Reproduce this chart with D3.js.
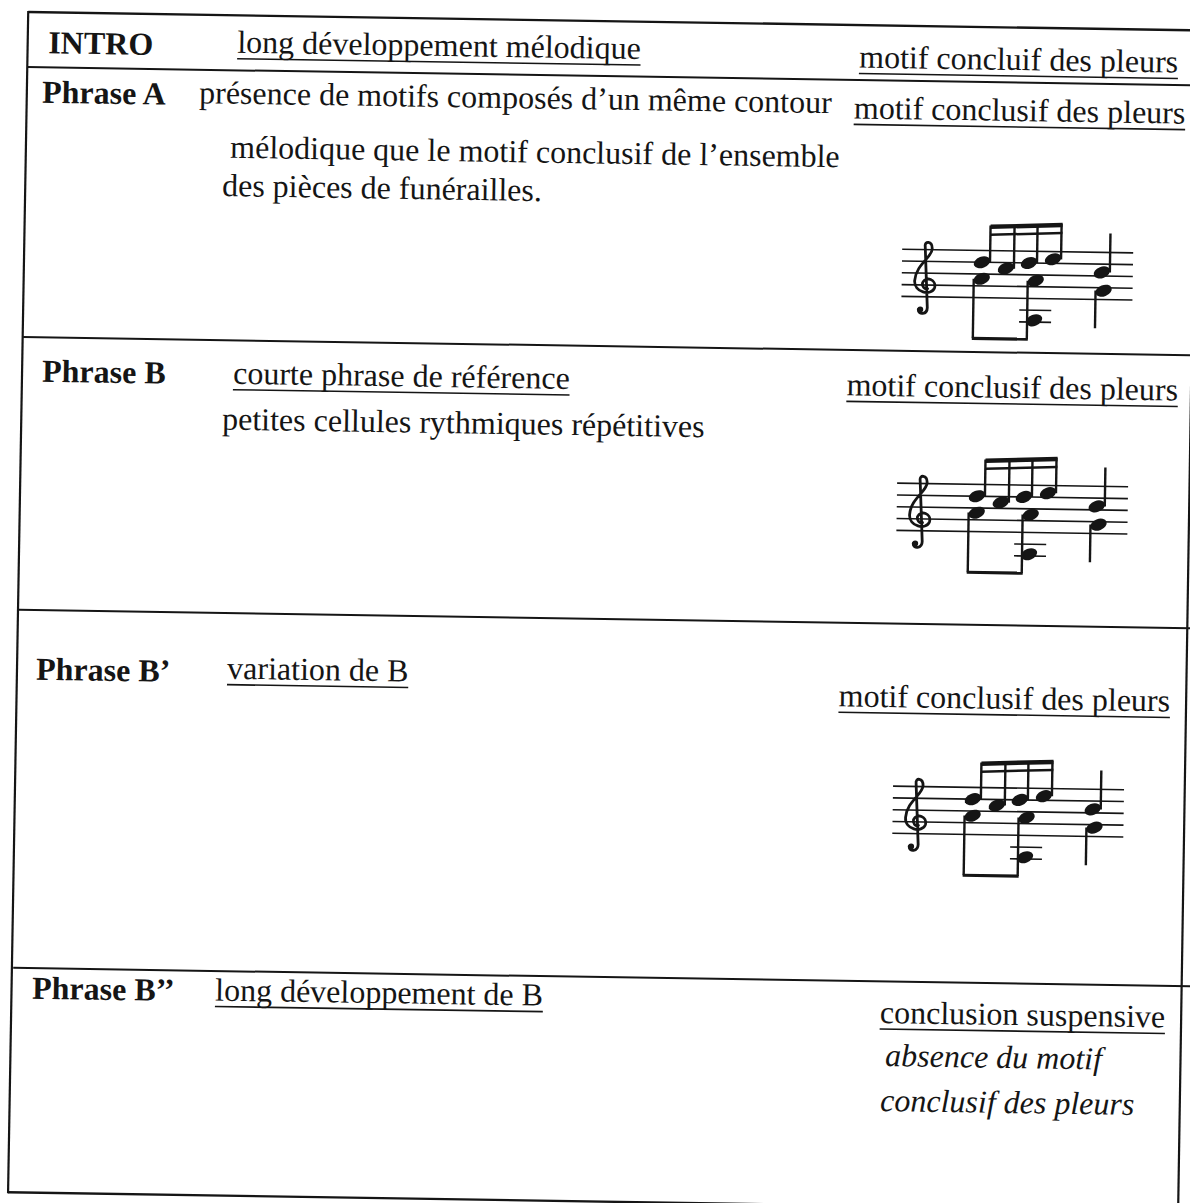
<!DOCTYPE html>
<html><head><meta charset="utf-8">
<script src="https://cdn.jsdelivr.net/npm/d3@7"></script>
<style>html,body{margin:0;padding:0;background:#fff}svg{display:block}</style>
</head><body>
<svg id="c" width="1190" height="1203"></svg>
<script>
// ---------- DATA ----------
const rowLabels = ["INTRO", "Phrase A", "Phrase B", "Phrase B’", "Phrase B’’"];
const mainHeads = ["long développement mélodique",
  "présence de motifs composés d’un même contour",
  "courte phrase de référence",
  "variation de B",
  "long développement de B"];
const mainHeadUnderlined = [true, false, true, true, true];
const mainExtra = [[], ["mélodique que le motif conclusif de l’ensemble", "des pièces de funérailles."],
  ["petites cellules rythmiques répétitives"], [], []];
const rightHeads = ["motif concluif des pleurs", "motif conclusif des pleurs", "motif conclusif des pleurs",
  "motif conclusif des pleurs", "conclusion suspensive"];
const rightExtra = [[], [], [], [], ["absence du motif", "conclusif des pleurs"]];
const hasMotif = [false, true, true, true, false];

// musical motif (staff steps: 0 = top line, 8 = bottom line)
const staffLineSteps = [0, 2, 4, 6, 8];
const upperSixteenths = [{x: 80, step: 2}, {x: 104, step: 3}, {x: 127, step: 2}, {x: 151, step: 1.3}];
const upperQuarter = {x: 200, step: 3.4};
const lowerEighths = [{x: 80, step: 4.8}, {x: 134, step: 5}];
const lowerChordLow = {x: 133, step: 11.7};
const lowerQuarter = {x: 202, step: 6.5};
const ledgerSteps = [10, 12];

// ---------- LAYOUT ----------
const INK = "#151515";
const FONT = "'Liberation Serif','Times New Roman',Times,serif";
const FS = 32;
const rowLines = [11.6, 66.6, 336.6, 609.5, 967.5, 1192];
const tableLeftTop = 28.4, tableLeftBottom = 26.8, tableRight = 1197;
const labelPos = [[49, 52.5], [43.6, 102], [48, 381], [46.7, 679], [47.7, 998]];
const mainPos = [[238, 49], [200.6, 100], [239, 380], [237.7, 675], [230.7, 997]];
const mainExtraPos = [[], [[232.5, 154], [225, 192.5]], [[228.7, 426]], [], []];
const rightEnd = [[1179, 54], [1187, 105], [1184, 382], [1181, 693], [1181, 1009]];
const rightExtraPos = [[], [], [], [], [[901.7, 1052], [897.4, 1097]]];
const motifOrigin = [null, [906, 235], [904.6, 469], [905.3, 772], null];

const svg = d3.select("#c");
svg.append("rect").attr("width", 1190).attr("height", 1203).attr("fill", "#fff");
const g = svg.append("g").attr("transform", "rotate(0.9)");

// table lines
const xSpan = d3.scaleLinear().domain([0, 1]).range([tableLeftTop, tableRight]);
g.selectAll("line.row").data(rowLines).join("line")
  .attr("class", "row")
  .attr("x1", (d, i) => i === rowLines.length - 1 ? tableLeftBottom : tableLeftTop)
  .attr("x2", xSpan(1) + 10)
  .attr("y1", d => d).attr("y2", d => d)
  .attr("stroke", INK).attr("stroke-width", (d, i) => (i === 0 || i === rowLines.length - 1) ? 2.4 : 2);
g.append("line").attr("x1", tableLeftTop).attr("y1", rowLines[0] - 1)
  .attr("x2", tableLeftBottom).attr("y2", rowLines[rowLines.length - 1] + 1)
  .attr("stroke", INK).attr("stroke-width", 2.2);
g.append("line").attr("x1", tableRight).attr("y1", rowLines[0])
  .attr("x2", tableRight).attr("y2", rowLines[rowLines.length - 1] + 1)
  .attr("stroke", INK).attr("stroke-width", 2.2);

function addText(txt, x, y, opts = {}) {
  const t = g.append("text").attr("x", x).attr("y", y)
    .attr("font-family", FONT).attr("font-size", FS).attr("fill", INK)
    .attr("font-weight", opts.bold ? "bold" : "normal")
    .attr("font-style", opts.italic ? "italic" : "normal")
    .attr("text-anchor", opts.anchor || "start")
    .text(txt);
  if (opts.underline) {
    const w = t.node().getComputedTextLength();
    const x0 = opts.anchor === "end" ? x - w : x;
    g.append("line").attr("x1", x0).attr("x2", x0 + w)
      .attr("y1", y + 6).attr("y2", y + 6)
      .attr("stroke", INK).attr("stroke-width", 1.6);
  }
  return t;
}

rowLabels.forEach((lab, i) => {
  addText(lab, labelPos[i][0], labelPos[i][1], {bold: true});
  addText(mainHeads[i], mainPos[i][0], mainPos[i][1], {underline: mainHeadUnderlined[i]});
  mainExtra[i].forEach((s, j) => addText(s, mainExtraPos[i][j][0], mainExtraPos[i][j][1]));
  addText(rightHeads[i], rightEnd[i][0], rightEnd[i][1], {underline: true, anchor: "end"});
  rightExtra[i].forEach((s, j) => addText(s, rightExtraPos[i][j][0], rightExtraPos[i][j][1], {italic: true}));
});

// ---------- MOTIF ----------
const stepY = d3.scaleLinear().domain([0, 8]).range([0, 47.2]);
const staffX = d3.scaleLinear().domain([0, 1]).range([0, 231]);

function drawMotif(ox, oy) {
  const m = g.append("g").attr("transform", `translate(${ox},${oy})`);
  m.selectAll("line.staff").data(staffLineSteps).join("line")
    .attr("x1", staffX(0)).attr("x2", staffX(1))
    .attr("y1", d => stepY(d)).attr("y2", d => stepY(d))
    .attr("stroke", INK).attr("stroke-width", 1.6);
  m.append("path")
    .attr("d", "M26 58 L23 -3 C22 -9 30 -9 30 -1 C30 8 14 15 13 31 C12 43 30 47 33 38 C35 30 24 26 21 33 C20 37 23 40 26 39 M26 58 C26 65 17 66 17 60")
    .attr("fill", "none").attr("stroke", INK).attr("stroke-width", 2.8).attr("stroke-linecap", "round");
  m.append("circle").attr("cx", 19).attr("cy", 60).attr("r", 3).attr("fill", INK);
  m.selectAll("line.ledger").data(ledgerSteps).join("line")
    .attr("x1", 118).attr("x2", 150)
    .attr("y1", d => stepY(d)).attr("y2", d => stepY(d))
    .attr("stroke", INK).attr("stroke-width", 1.6);
  const head = (x, step) => m.append("ellipse").attr("cx", x).attr("cy", stepY(step))
    .attr("rx", 8.5).attr("ry", 5.6).attr("transform", `rotate(-22 ${x} ${stepY(step)})`).attr("fill", INK);
  const stem = (x, y1, y2, w = 2.4) => m.append("line").attr("x1", x).attr("x2", x)
    .attr("y1", y1).attr("y2", y2).attr("stroke", INK).attr("stroke-width", w);
  const beamTop = d3.scaleLinear().domain([upperSixteenths[0].x + 8, upperSixteenths[3].x + 8]).range([-25, -28]);
  upperSixteenths.forEach(n => { head(n.x, n.step); stem(n.x + 8, stepY(n.step), beamTop(n.x + 8)); });
  const bx0 = upperSixteenths[0].x + 8, bx1 = upperSixteenths[3].x + 8;
  m.append("path").attr("d", `M${bx0} ${beamTop(bx0) - 1} L${bx1 + 1} ${beamTop(bx1) - 1} L${bx1 + 1} ${beamTop(bx1) + 3.5} L${bx0} ${beamTop(bx0) + 3.5} Z`).attr("fill", INK);
  m.append("path").attr("d", `M${bx0} ${beamTop(bx0) + 8} L${bx1 + 1} ${beamTop(bx1) + 8} L${bx1 + 1} ${beamTop(bx1) + 10.5} L${bx0} ${beamTop(bx0) + 10.5} Z`).attr("fill", INK);
  head(upperQuarter.x, upperQuarter.step);
  stem(upperQuarter.x + 8, stepY(upperQuarter.step), -19);
  lowerEighths.forEach(n => { head(n.x, n.step); stem(n.x - 8, stepY(n.step), 88); });
  head(lowerChordLow.x, lowerChordLow.step);
  m.append("line").attr("x1", lowerEighths[0].x - 9).attr("x2", lowerEighths[1].x - 7)
    .attr("y1", 88).attr("y2", 88).attr("stroke", INK).attr("stroke-width", 3.2);
  head(lowerQuarter.x, lowerQuarter.step);
  stem(lowerQuarter.x - 8, stepY(lowerQuarter.step), 76);
}

hasMotif.forEach((h, i) => { if (h) drawMotif(motifOrigin[i][0], motifOrigin[i][1]); });
</script>
</body></html>
